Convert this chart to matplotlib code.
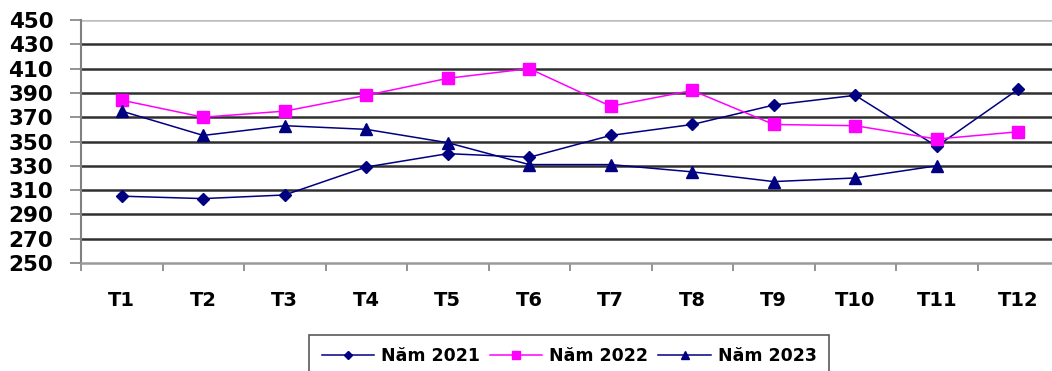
import matplotlib
matplotlib.use("Agg")
import matplotlib.pyplot as plt
import numpy as np

months = ["T1", "T2", "T3", "T4", "T5", "T6", "T7", "T8", "T9", "T10", "T11", "T12"]
y2021 = [305, 303, 306, 329, 340, 337, 355, 364, 380, 388, 346, 393]
y2022 = [384, 370, 375, 388, 402, 410, 379, 392, 364, 363, 352, 358]
y2023 = [375, 355, 363, 360, 349, 331, 331, 325, 317, 320, 330]
yticks = list(range(250, 451, 20))
labels = ["Năm 2021", "Năm 2022", "Năm 2023"]

W, H = 1052, 371
fig = plt.figure(figsize=(W / 100, H / 100), dpi=100)
ax = fig.add_axes([81 / W, 1 - 263 / H, 978 / W, 243 / H])

x = np.arange(len(months))
ax.plot(x, y2021, color="#000080", lw=1.1, marker="D", ms=6.5, label=labels[0], zorder=3)
ax.plot(x, y2022, color="#FF00FF", lw=1.1, marker="s", ms=8, label=labels[1], zorder=3)
ax.plot(x[:len(y2023)], y2023, color="#000080", lw=1.1, marker="^", ms=8.5, label=labels[2], zorder=3)

ax.set_xlim(-0.5, len(months) - 0.5)
ax.set_ylim(250, 450)
ax.set_yticks(yticks)
ax.set_yticklabels([str(v) for v in yticks], fontsize=15.5, fontweight="bold")
ax.set_xticks(x)
ax.set_xticklabels(months, fontsize=14, fontweight="bold")
ax.tick_params(axis="x", length=0, pad=20)
ax.set_xticks(np.arange(-0.5, len(months), 1), minor=True)
ax.tick_params(axis="x", which="minor", length=6, width=1.2, color="#808080", direction="out")
ax.tick_params(axis="y", length=8, width=1.2, color="#808080", pad=12)

ax.yaxis.grid(True, color="#303030", lw=1.8, zorder=0)
ax.set_axisbelow(True)
gl = ax.get_ygridlines()
gl[-1].set_color("#bdbdbd")
gl[0].set_visible(False)

for s in ["top", "right"]:
    ax.spines[s].set_visible(False)
ax.spines["left"].set_color("#808080")
ax.spines["left"].set_linewidth(1.5)
ax.spines["bottom"].set_color("#9a9a9a")
ax.spines["bottom"].set_linewidth(1.8)

leg = fig.legend(loc="upper center", bbox_to_anchor=(569 / W, 1 - 335 / H), ncol=3,
                 prop={"size": 12.5, "weight": "bold"}, frameon=True, fancybox=False,
                 handlelength=3.0, columnspacing=0.6, handletextpad=0.4,
                 borderpad=0.7, borderaxespad=0, markerscale=0.7)
leg.get_frame().set_edgecolor("#303030")
leg.get_frame().set_linewidth(1.2)

fig.savefig("out.png", dpi=100)
